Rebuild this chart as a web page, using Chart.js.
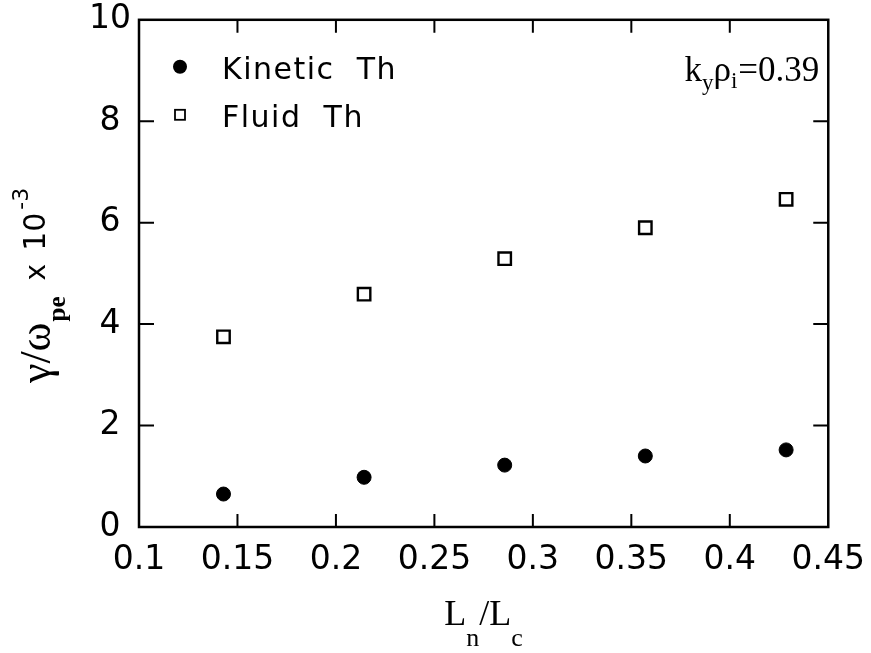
<!DOCTYPE html>
<html>
<head>
<meta charset="utf-8">
<script src="https://cdn.jsdelivr.net/npm/chart.js@4.4.0/dist/chart.umd.min.js"></script>
<style>
  body { margin: 0; background: #fff; }
</style>
</head>
<body>
<canvas id="grafico" width="871" height="653"></canvas>
<script>
// L_n/L_c values of the runs
const lnlc = [0.1429, 0.2143, 0.2857, 0.3571, 0.4286];
// growth rate gamma/omega_pe (x 10^-3)
const cinetico = [0.65, 0.98, 1.22, 1.40, 1.52];
const fluido = [3.75, 4.59, 5.29, 5.90, 6.46];

const rotulosX = ['0.1', '0.15', '0.2', '0.25', '0.3', '0.35', '0.4', '0.45'];
const rotulosY = ['0', '2', '4', '6', '8', '10'];

const nomeCinetico = 'Kinetic  Th';
const nomeFluido = 'Fluid  Th';

const fonteSans = '"DejaVu Sans", sans-serif';
const fonteSerif = '"Liberation Serif", "DejaVu Serif", serif';

function pontos(xs, ys) {
  return xs.map((x, i) => ({ x: x, y: ys[i] }));
}

// draws a run of text pieces, each with its own font and baseline shift
function pecas(ctx, lista, x0, y0) {
  let x = x0;
  lista.forEach(p => {
    ctx.font = p.f;
    ctx.fillText(p.t, x, y0 + (p.dy || 0));
    x += ctx.measureText(p.t).width + (p.gap || 0);
  });
  return x;
}
function largura(ctx, lista) {
  let w = 0;
  lista.forEach(p => {
    ctx.font = p.f;
    w += ctx.measureText(p.t).width + (p.gap || 0);
  });
  return w;
}

// frame, inward ticks, legend and the titles
const moldura = {
  id: 'moldura',
  afterDraw(chart) {
    const ctx = chart.ctx;
    const a = chart.chartArea;
    const sx = chart.scales.x, sy = chart.scales.y;
    ctx.save();
    ctx.strokeStyle = '#000';
    ctx.fillStyle = '#000';
    ctx.lineWidth = 2.5;
    ctx.strokeRect(a.left, a.top, a.right - a.left, a.bottom - a.top);

    ctx.lineWidth = 2;
    ctx.beginPath();
    sx.ticks.forEach(t => {
      if (t.value <= sx.min + 1e-9 || t.value >= sx.max - 1e-9) return;
      const px = sx.getPixelForValue(t.value);
      ctx.moveTo(px, a.bottom); ctx.lineTo(px, a.bottom - 13);
      ctx.moveTo(px, a.top); ctx.lineTo(px, a.top + 13);
    });
    sy.ticks.forEach(t => {
      if (t.value <= sy.min || t.value >= sy.max) return;
      const py = sy.getPixelForValue(t.value);
      ctx.moveTo(a.left, py); ctx.lineTo(a.left + 15, py);
      ctx.moveTo(a.right, py); ctx.lineTo(a.right - 15, py);
    });
    ctx.stroke();

    // legend
    ctx.beginPath();
    ctx.arc(a.left + 41, a.top + 47, 7, 0, Math.PI * 2);
    ctx.fill();
    ctx.lineWidth = 1.8;
    ctx.strokeRect(a.left + 36, a.top + 90, 10, 10);
    ctx.font = '30px ' + fonteSans;
    ctx.letterSpacing = '1.5px';
    ctx.textBaseline = 'alphabetic';
    ctx.fillText(nomeCinetico, a.left + 83, a.top + 59);
    ctx.fillText(nomeFluido, a.left + 83, a.top + 107);
    ctx.letterSpacing = '0px';

    // k_y rho_i = 0.39
    const anot = [
      { t: 'k', f: '35px ' + fonteSerif },
      { t: 'y', f: '23px ' + fonteSerif, dy: 9 },
      { t: '\u03c1', f: '35px ' + fonteSerif },
      { t: 'i', f: '23px ' + fonteSerif, dy: 7, gap: 1 },
      { t: '=0.39', f: '35px ' + fonteSerif }
    ];
    pecas(ctx, anot, a.right - 9 - largura(ctx, anot), a.top + 61);

    // x title
    const tx = [
      { t: 'L', f: '36px ' + fonteSerif },
      { t: 'n', f: '26px ' + fonteSerif, dy: 21 },
      { t: '/L', f: '36px ' + fonteSerif },
      { t: 'c', f: '26px ' + fonteSerif, dy: 21 }
    ];
    const cx = (a.left + a.right) / 2;
    pecas(ctx, tx, cx - largura(ctx, tx) / 2, 625);

    // y title, rotated
    const ty = [
      { t: '\u03b3/\u03c9', f: '44px ' + fonteSerif, gap: 1 },
      { t: 'pe', f: 'bold 25px ' + fonteSerif, dy: 15, gap: 16 },
      { t: 'x', f: '28px ' + fonteSans, dy: -5, gap: 13 },
      { t: '10', f: '30px ' + fonteSans, dy: -5, gap: 3 },
      { t: '-3', f: '22px ' + fonteSans, dy: -22 }
    ];
    ctx.translate(50, (a.top + a.bottom) / 2 + 12);
    ctx.rotate(-Math.PI / 2);
    pecas(ctx, ty, -largura(ctx, ty) / 2, 0);
    ctx.restore();
  }
};

new Chart(document.getElementById('grafico'), {
  type: 'scatter',
  data: {
    datasets: [
      {
        label: nomeCinetico,
        data: pontos(lnlc, cinetico),
        pointStyle: 'circle',
        pointRadius: 7,
        backgroundColor: '#000',
        borderColor: '#000',
        borderWidth: 1
      },
      {
        label: nomeFluido,
        data: pontos(lnlc, fluido),
        pointStyle: 'rect',
        pointRadius: 8.8,
        backgroundColor: '#fff',
        borderColor: '#000',
        borderWidth: 2.4
      }
    ]
  },
  options: {
    responsive: false,
    animation: false,
    layout: { padding: { left: 0, top: 1, right: 42, bottom: 0 } },
    plugins: {
      legend: { display: false },
      tooltip: { enabled: false }
    },
    scales: {
      x: {
        min: 0.1,
        max: 0.45,
        grid: { display: false },
        border: { display: false },
        ticks: {
          stepSize: 0.05,
          color: '#000',
          padding: 6,
          maxRotation: 0,
          font: { family: fonteSans, size: 33 },
          callback: (v, i) => rotulosX[i]
        },
        afterFit: s => { s.height = 126; }
      },
      y: {
        min: 0,
        max: 10,
        grid: { display: false },
        border: { display: false },
        ticks: {
          stepSize: 2,
          color: '#000',
          padding: 0,
          crossAlign: 'center',
          font: { family: fonteSans, size: 33 },
          callback: (v, i) => rotulosY[i]
        },
        afterFit: s => { s.width = 139; }
      }
    }
  },
  plugins: [moldura]
});
</script>
</body>
</html>
